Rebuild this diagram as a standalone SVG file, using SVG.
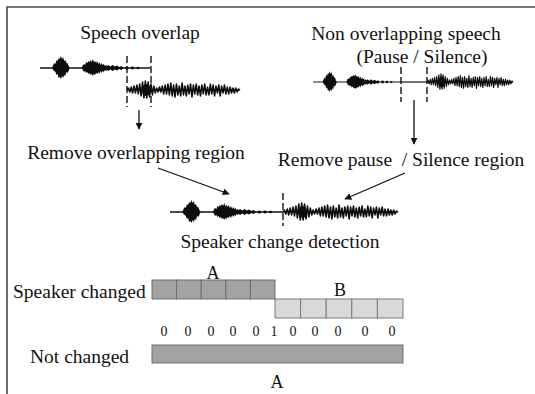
<svg xmlns="http://www.w3.org/2000/svg" width="535" height="394" viewBox="0 0 535 394">
  <style>
    .t { font-family: "Liberation Serif", "Times New Roman", serif; fill: #111; }
    .lbl { font-size: 19.5px; }
    .big { font-size: 18px; }
    .dig { font-size: 14px; }
    .dash { stroke: #111; stroke-width: 1.4; stroke-dasharray: 7 3; fill: none; }
    .arr { stroke: #111; stroke-width: 1.3; fill: none; marker-end: url(#head); }
    .cellA { fill: #a3a3a3; stroke: #6e6e6e; stroke-width: 1; }
    .cellB { fill: #d9d9d9; stroke: #7a7a7a; stroke-width: 1; }
    .frame { stroke: #4a4a4a; stroke-width: 1.6; fill: none; }
  </style>
  <defs>
    <marker id="head" viewBox="0 0 10 10" refX="9" refY="5" markerWidth="7" markerHeight="7" orient="auto" markerUnits="userSpaceOnUse">
      <path d="M0,0 L10,5 L0,10 Z" fill="#111"/>
    </marker>
    <filter id="soft" x="-5%" y="-50%" width="110%" height="200%">
      <feGaussianBlur stdDeviation="0.55"/>
    </filter>
    <!-- first speaker: a loud burst, a longer burst and a fading tail, 100 units wide -->
    <g id="spkA" filter="url(#soft)">
      <path d="M0,0 H100" stroke="#111" stroke-width="1.3"/>
      <path fill="#111" d="M11,0 L12,-3 13,-5 14,-4 15,-8 16,-7 17,-10 18,-9 19,-12 20,-9 21,-11 22,-7 23,-8 24,-5 25,-5 26,-2 27,0 26,3 25,5 24,4 23,8 22,7 21,10 20,8 19,11 18,9 17,10 16,6 15,7 14,4 13,3 12,2 Z"/>
      <path fill="#111" d="M38,0 L39,-3 40,-4 41,-3 42,-6 43,-5 44,-7 45,-6 46,-8 47,-6 48,-9 49,-6 50,-7 51,-5 52,-7 53,-4 54,-6 55,-3 56,-5 57,-3 58,-4 59,-2 60,-3 61,-2 62,-3 64,-1.5 66,-3 68,-1.5 70,-2.5 72,-1 74,-2 76,0 74,2 72,1 70,2.5 68,1.5 66,3 64,1.5 62,3 61,2 60,3 59,2 58,4 57,3 56,5 55,3 54,6 53,4 52,6 51,5 50,7 49,6 48,8 47,6 46,7 45,5 44,6 43,4 42,5 41,3 40,4 39,2 Z"/>
      <ellipse cx="79" cy="0" rx="1.6" ry="1.6" fill="#111"/>
      <ellipse cx="84" cy="0" rx="1.5" ry="1.4" fill="#111"/>
      <ellipse cx="89" cy="0" rx="1.3" ry="1.2" fill="#111"/>
    </g>
    <!-- second speaker: dense oscillating signal, 100 units wide -->
    <g id="spkB" filter="url(#soft)">
      <path fill="none" stroke="#111" stroke-width="1.4" stroke-linejoin="round" d="M0,0 L1.25,-2 2.5,2 3.75,-3 5,3 6.25,-4 7.5,3 8.75,-5 10,4 11.25,-6 12.5,6 13.75,-8 15,8 16.25,-9 17.5,8 18.75,-8 20,7 21.25,-6 22.5,5 23.75,-4 25,3 26.25,-2 27.5,2 28.75,-3 30,2 31.25,-4 32.5,4 33.75,-5 35,4 36.25,-6 37.5,5 38.75,-7 40,6 41.25,-5 42.5,7 43.75,-6 45,5 46.25,-4 47.5,6 48.75,-7 50,5 51.25,-4 52.5,6 53.75,-5 55,4 56.25,-6 57.5,7 58.75,-5 60,4 61.25,-6 62.5,5 63.75,-4 65,6 66.25,-5 67.5,4 68.75,-6 70,5 71.25,-3 72.5,5 73.75,-6 75,4 76.25,-5 77.5,6 78.75,-4 80,3 81.25,-5 82.5,6 83.75,-4 85,3 86.25,-5 87.5,4 88.75,-3 90,4 91.25,-3 92.5,3 93.75,-2 95,3 96.25,-2 97.5,2 98.75,-1 100,0"/>
      <path d="M0,0 H100" stroke="#111" stroke-width="1"/>
      <ellipse cx="17" cy="0" rx="4" ry="6" fill="#111"/>
    </g>
  </defs>

  <rect width="535" height="394" fill="#fff"/>
  <path class="frame" d="M7,394 V7 H535"/>

  <!-- overlapping speech -->
  <g id="overlap">
    <text class="t lbl" x="140" y="39" text-anchor="middle">Speech overlap</text>
    <use href="#spkA" transform="translate(40,68) scale(1.1,1)"/>
    <use href="#spkB" transform="translate(127,90) scale(1.13,1)"/>
    <line class="dash" x1="127" y1="56" x2="127" y2="107"/>
    <line class="dash" x1="151" y1="56" x2="151" y2="107"/>
  </g>

  <g id="remove-overlap">
    <text class="t lbl" x="136" y="159" text-anchor="middle">Remove overlapping region</text>
  </g>

  <!-- speech with a pause -->
  <g id="pause">
    <text class="t lbl" x="406" y="40" text-anchor="middle">Non overlapping speech</text>
    <text class="t lbl" x="422" y="63" text-anchor="middle">(Pause / Silence)</text>
    <use href="#spkA" transform="translate(313,82) scale(0.88,0.9)"/>
    <line x1="401" y1="82" x2="427" y2="82" stroke="#111" stroke-width="1.2"/>
    <use href="#spkB" transform="translate(427,82) scale(0.86,0.9)"/>
    <line class="dash" x1="401" y1="67" x2="401" y2="102"/>
    <line class="dash" x1="427" y1="67" x2="427" y2="102"/>
  </g>

  <g id="remove-pause">
    <text class="t lbl" x="401" y="166" text-anchor="middle" style="white-space:pre">Remove pause  / Silence region</text>
  </g>

  <!-- cleaned signal with the change point -->
  <g id="detection">
    <use href="#spkA" transform="translate(170,212) scale(1.13,1)"/>
    <use href="#spkB" transform="translate(283,212) scale(1.15,1)"/>
    <line class="dash" x1="283" y1="193" x2="283" y2="226"/>
    <text class="t lbl" x="280" y="248" text-anchor="middle">Speaker change detection</text>
  </g>

  <!-- frame labels when the speaker changes -->
  <g id="changed">
    <text class="t lbl" x="13" y="298">Speaker changed</text>
    <text class="t big" x="213" y="279" text-anchor="middle">A</text>
    <rect class="cellA" x="152" y="280" width="24.6" height="19"/>
    <rect class="cellA" x="176.6" y="280" width="24.6" height="19"/>
    <rect class="cellA" x="201.2" y="280" width="24.6" height="19"/>
    <rect class="cellA" x="225.8" y="280" width="24.6" height="19"/>
    <rect class="cellA" x="250.4" y="280" width="24.6" height="19"/>
    <text class="t big" x="340" y="296" text-anchor="middle">B</text>
    <rect class="cellB" x="275" y="299" width="25.6" height="19"/>
    <rect class="cellB" x="300.6" y="299" width="25.6" height="19"/>
    <rect class="cellB" x="326.2" y="299" width="25.6" height="19"/>
    <rect class="cellB" x="351.8" y="299" width="25.6" height="19"/>
    <rect class="cellB" x="377.4" y="299" width="25.6" height="19"/>
    <g class="t dig" text-anchor="middle">
      <text x="164" y="336">0</text>
      <text x="188" y="336">0</text>
      <text x="211" y="336">0</text>
      <text x="233" y="336">0</text>
      <text x="256" y="336">0</text>
      <text x="274" y="336">1</text>
      <text x="293" y="336">0</text>
      <text x="315" y="336">0</text>
      <text x="338" y="336">0</text>
      <text x="365" y="336">0</text>
      <text x="392" y="336">0</text>
    </g>
  </g>

  <!-- frame labels when the speaker stays the same -->
  <g id="not-changed">
    <text class="t lbl" x="30" y="363">Not changed</text>
    <rect class="cellA" x="152" y="345" width="251" height="18"/>
    <text class="t big" x="277" y="388" text-anchor="middle">A</text>
  </g>

  <g id="connectors">
    <line class="arr" x1="139" y1="110" x2="139" y2="129"/>
    <line class="arr" x1="414" y1="100" x2="414" y2="144"/>
    <line class="arr" x1="158" y1="168" x2="229" y2="194"/>
    <line class="arr" x1="405" y1="173" x2="345" y2="199"/>
  </g>
</svg>
